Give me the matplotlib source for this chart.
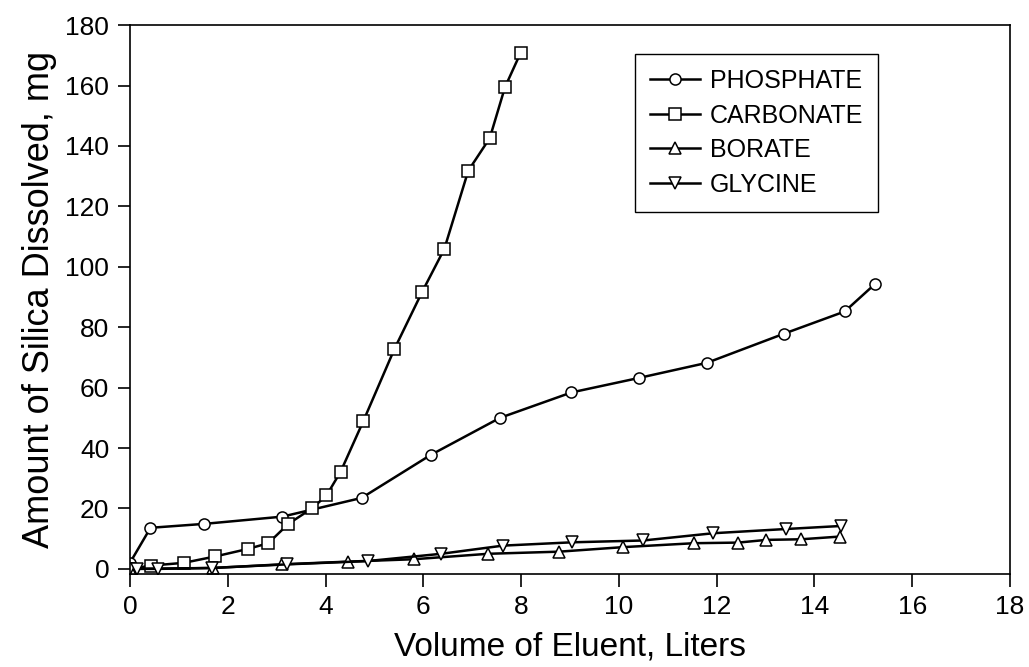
import matplotlib
matplotlib.use("Agg")
import matplotlib.pyplot as plt

# values (Liters, mg)
phosphate_x = [0.0, 0.42, 1.52, 3.12, 4.74, 6.15, 7.57, 9.03, 10.41, 11.8, 13.37, 14.62, 15.24]
phosphate_y = [2.0, 13.6, 14.9, 17.3, 23.5, 37.7, 50.0, 58.4, 63.2, 68.2, 77.8, 85.2, 94.3]

carbonate_x = [0.0, 0.44, 1.1, 1.74, 2.41, 2.83, 3.24, 3.73, 4.02, 4.31, 4.77, 5.41, 5.98, 6.43, 6.92, 7.36, 7.67, 7.99]
carbonate_y = [0.0, 1.1, 2.0, 4.1, 6.6, 8.5, 14.9, 20.1, 24.3, 32.2, 48.8, 72.8, 91.8, 105.9, 131.8, 142.6, 159.4, 170.8]

borate_x = [0.0, 1.7, 3.1, 4.46, 5.81, 7.33, 8.78, 10.09, 11.54, 12.44, 13.02, 13.73, 14.52]
borate_y = [0.0, 0.3, 1.5, 2.4, 3.2, 5.0, 5.7, 7.2, 8.5, 8.7, 9.6, 9.8, 10.7]

glycine_x = [0.0, 0.15, 0.58, 1.67, 3.22, 4.87, 6.37, 7.63, 9.05, 10.5, 11.93, 13.42, 14.54]
glycine_y = [0.0, 0.0, 0.0, 0.3, 1.5, 2.6, 5.0, 7.7, 8.8, 9.4, 11.8, 13.2, 14.2]

x_ticks = [0, 2, 4, 6, 8, 10, 12, 14, 16, 18]
y_ticks = [0, 20, 40, 60, 80, 100, 120, 140, 160, 180]


def main():
    plt.rcParams['font.family'] = ['Liberation Sans', 'DejaVu Sans']

    fig = plt.figure(figsize=(10.29, 6.67), dpi=100)
    ax = fig.add_axes([0.1263, 0.1394, 0.8552, 0.823])

    style = dict(color='black', lw=1.8, mfc='white', mec='black', mew=1.1)
    ax.plot(phosphate_x, phosphate_y, marker='o', ms=8, label='PHOSPHATE', **style)
    ax.plot(carbonate_x, carbonate_y, marker='s', ms=8.5, label='CARBONATE', **style)
    ax.plot(borate_x, borate_y, marker='^', ms=9, label='BORATE', **style)
    ax.plot(glycine_x, glycine_y, marker='v', ms=9, label='GLYCINE', **style)

    ax.set_xlim(0, 18)
    ax.set_ylim(-1.7, 180)
    ax.set_xticks(x_ticks)
    ax.set_yticks(y_ticks)
    ax.tick_params(direction='out', length=9, width=1.2, labelsize=19, pad=6)
    for s in ax.spines.values():
        s.set_linewidth(1.2)

    ax.set_xlabel('Volume of Eluent, Liters', fontsize=24, labelpad=9)
    ax.set_ylabel('Amount of Silica Dissolved, mg', fontsize=26, labelpad=6)

    leg = ax.legend(loc='upper right', bbox_to_anchor=(0.85, 0.947), borderaxespad=0,
                    fontsize=18, fancybox=False, framealpha=1, edgecolor='black',
                    handlelength=2.0, handletextpad=0.4, labelspacing=0.42,
                    borderpad=0.6)
    leg.get_frame().set_linewidth(1.0)

    fig.savefig('out.png', dpi=100)


if __name__ == "__main__":
    main()
